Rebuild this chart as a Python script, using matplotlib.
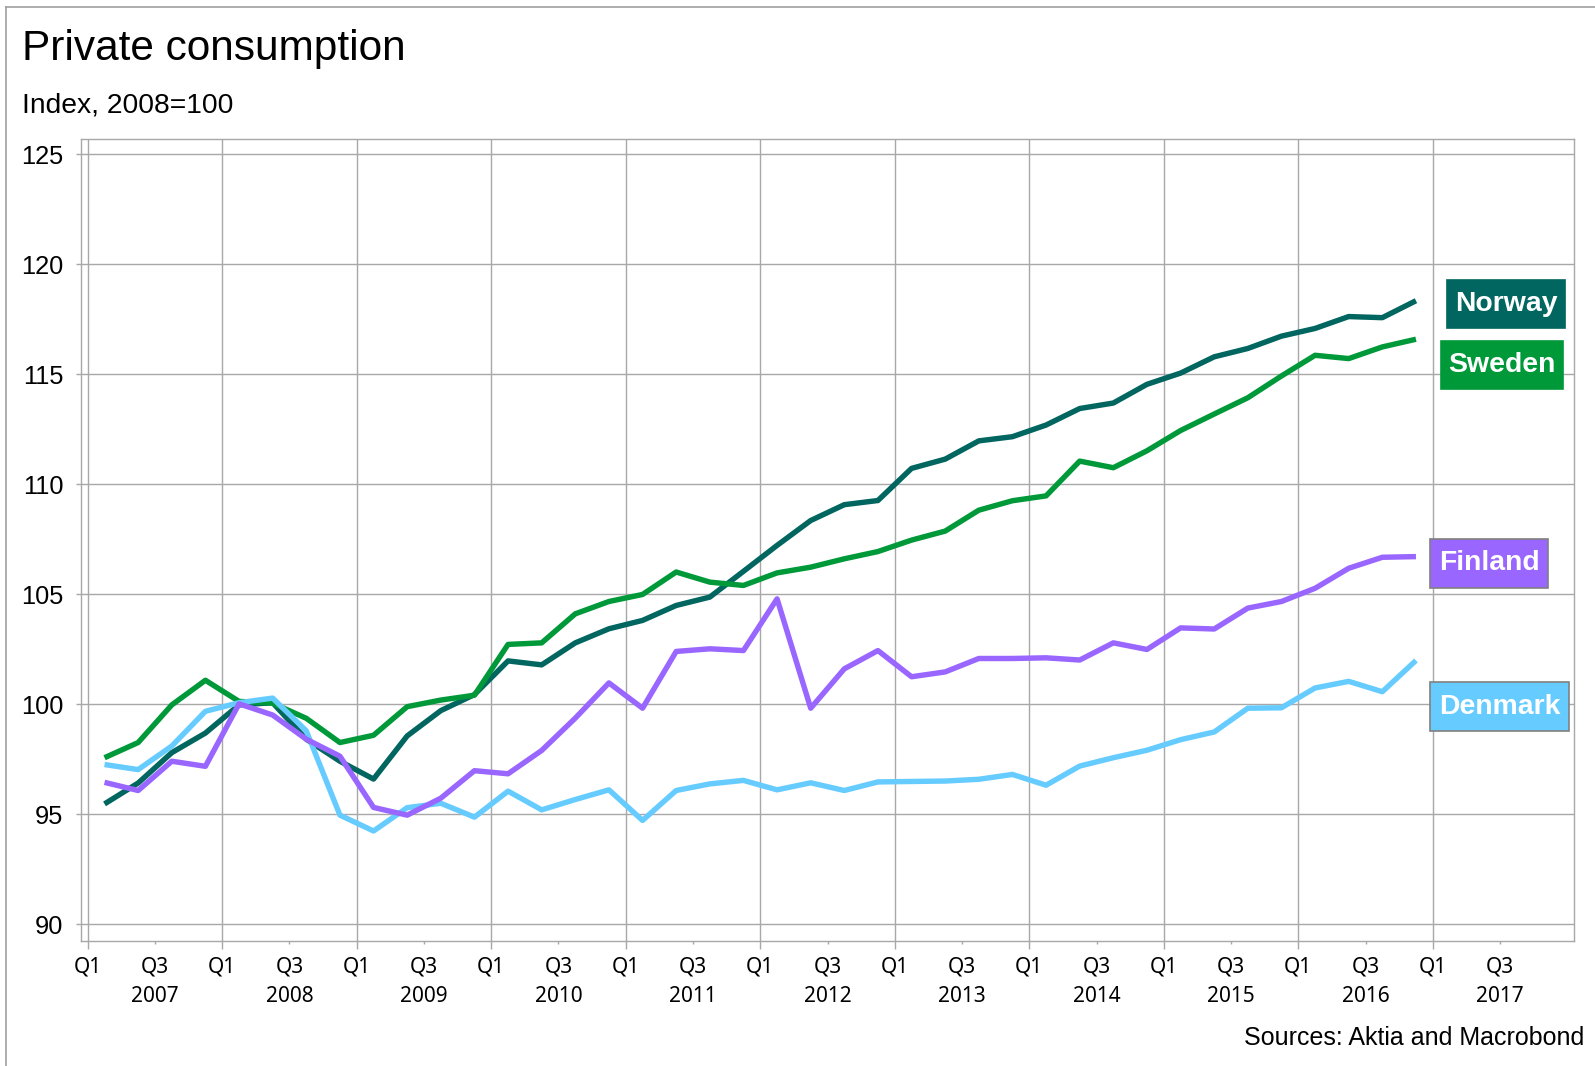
import numpy as np
import matplotlib
matplotlib.use("Agg")
import matplotlib.pyplot as plt
from matplotlib.patches import Rectangle
from matplotlib.lines import Line2D

# quarterly index, 2008=100, 2007Q1 .. 2016Q4
first_year = 2007
n_quarters = 40

norway = [95.48, 96.43, 97.81, 98.70, 99.98, 100.08, 98.42, 97.42, 96.61, 98.57,
          99.72, 100.45, 101.98, 101.80, 102.80, 103.44, 103.82, 104.50, 104.88, 106.05,
          107.23, 108.36, 109.08, 109.27, 110.73, 111.15, 111.98, 112.17, 112.70, 113.45,
          113.70, 114.55, 115.06, 115.80, 116.18, 116.74, 117.09, 117.63, 117.58, 118.35]
sweden = [97.58, 98.27, 99.98, 101.10, 100.14, 100.06, 99.37, 98.27, 98.60, 99.90,
          100.20, 100.42, 102.73, 102.80, 104.12, 104.68, 105.00, 106.02, 105.56, 105.41,
          105.98, 106.24, 106.62, 106.95, 107.47, 107.88, 108.83, 109.26, 109.48, 111.06,
          110.76, 111.53, 112.45, 113.20, 113.94, 114.93, 115.87, 115.72, 116.25, 116.60]
finland = [96.46, 96.09, 97.42, 97.19, 100.03, 99.52, 98.42, 97.65, 95.32, 94.97,
           95.74, 96.99, 96.85, 97.91, 99.38, 100.98, 99.83, 102.41, 102.53, 102.45,
           104.80, 99.83, 101.62, 102.45, 101.26, 101.48, 102.09, 102.09, 102.12, 102.02,
           102.80, 102.50, 103.48, 103.43, 104.38, 104.68, 105.28, 106.19, 106.69, 106.72]
denmark = [97.27, 97.04, 98.11, 99.69, 100.08, 100.29, 98.80, 94.97, 94.25, 95.31,
           95.51, 94.88, 96.06, 95.21, 95.68, 96.12, 94.73, 96.09, 96.39, 96.55,
           96.12, 96.44, 96.09, 96.48, 96.50, 96.52, 96.60, 96.82, 96.33, 97.20,
           97.58, 97.92, 98.40, 98.75, 99.83, 99.85, 100.75, 101.05, 100.58, 102.00]

years = list(range(2007, 2018))
yticks = [90, 95, 100, 105, 110, 115, 120, 125]

# colours
c_nor = "#00665f"
c_swe = "#00993a"
c_fin = "#9966ff"
c_den = "#66ccff"
grid_c = "#a8a8a8"

W, H = 1595, 1066
fig = plt.figure(figsize=(W / 100, H / 100), dpi=100)
ax = fig.add_axes([81 / W, 1 - 941 / H, (1574 - 81) / W, (941 - 139) / H])

# x = middle of each quarter, in years
t = first_year + (np.arange(n_quarters) + 0.5) / 4

lw = 3.9
ax.plot(t, norway, color=c_nor, lw=lw, zorder=3, solid_capstyle="butt")
ax.plot(t, sweden, color=c_swe, lw=lw, zorder=3, solid_capstyle="butt")
ax.plot(t, denmark, color=c_den, lw=lw, zorder=4, solid_capstyle="butt")
ax.plot(t, finland, color=c_fin, lw=lw, zorder=5, solid_capstyle="butt")

ax.set_xlim(2006.95, 2018.05)
ax.set_ylim(89.25, 125.7)

# x axis: Q1 major ticks (with grid), Q3 minor ticks with year below
ax.set_xticks(years)
ax.set_xticklabels(["Q1"] * len(years))
ax.set_xticks([y + 0.5 for y in years], minor=True)
ax.set_xticklabels(["Q3\n%d" % y for y in years], minor=True, linespacing=1.52)
ax.tick_params(axis="x", which="major", length=6, width=1, color=grid_c, pad=5.5,
               labelsize=15)
ax.tick_params(axis="x", which="minor", length=2.5, width=1, color=grid_c, pad=9,
               labelsize=15)
for lab in ax.get_xticklabels() + ax.get_xticklabels(minor=True):
    lab.set_family(["Noto Sans", "DejaVu Sans"])

ax.set_yticks(yticks)
ax.set_yticklabels([str(v) for v in yticks])
ax.tick_params(axis="y", length=3.6, width=1, color=grid_c, pad=9, labelsize=18.3)
for lab in ax.get_yticklabels():
    lab.set_family(["Liberation Sans", "DejaVu Sans"])

ax.grid(True, which="major", color=grid_c, lw=1.0)
ax.set_axisbelow(True)
for s in ax.spines.values():
    s.set_color(grid_c)
    s.set_linewidth(1.0)

# title, subtitle, source
fig.text(22 / W, 1 - 60 / H, "Private consumption", fontsize=30.5,
         family=["Liberation Sans", "DejaVu Sans"], va="baseline")
fig.text(22 / W, 1 - 113 / H, "Index, 2008=100", fontsize=20.3,
         family=["Liberation Sans", "DejaVu Sans"], va="baseline")
fig.text(1584 / W, 1 - 1045 / H, "Sources: Aktia and Macrobond", fontsize=18,
         family=["Liberation Sans", "DejaVu Sans"], va="baseline", ha="right")

# figure border (left and top)
fig.add_artist(Line2D([6 / W, 6 / W], [0, 1 - 7 / H], color="#a0a0a0", lw=1.2))
fig.add_artist(Line2D([6 / W, 1], [1 - 7 / H, 1 - 7 / H], color="#a0a0a0", lw=1.2))

# end labels: (name, colour, left, top, right, bottom in pixels, border)
labels = [
    ("Norway", c_nor, 1447, 280, 1565, 328, False),
    ("Sweden", c_swe, 1441, 341, 1563, 389, False),
    ("Finland", c_fin, 1430, 539, 1548, 588, True),
    ("Denmark", c_den, 1430, 682, 1569, 731, True),
]
for name, col, x0, y0, x1, y1, border in labels:
    rect = Rectangle((x0 / W, 1 - y1 / H), (x1 - x0) / W, (y1 - y0) / H,
                     transform=fig.transFigure, facecolor=col,
                     edgecolor="#808080" if border else col, lw=1.2, zorder=10)
    fig.add_artist(rect)
    fig.text((x0 + x1) / 2 / W, 1 - (y0 + y1) / 2 / H, name, color="white",
             fontsize=20.4, fontweight="bold", ha="center", va="center",
             family=["Liberation Sans", "DejaVu Sans"], zorder=11)

fig.savefig("out.png", dpi=100)
